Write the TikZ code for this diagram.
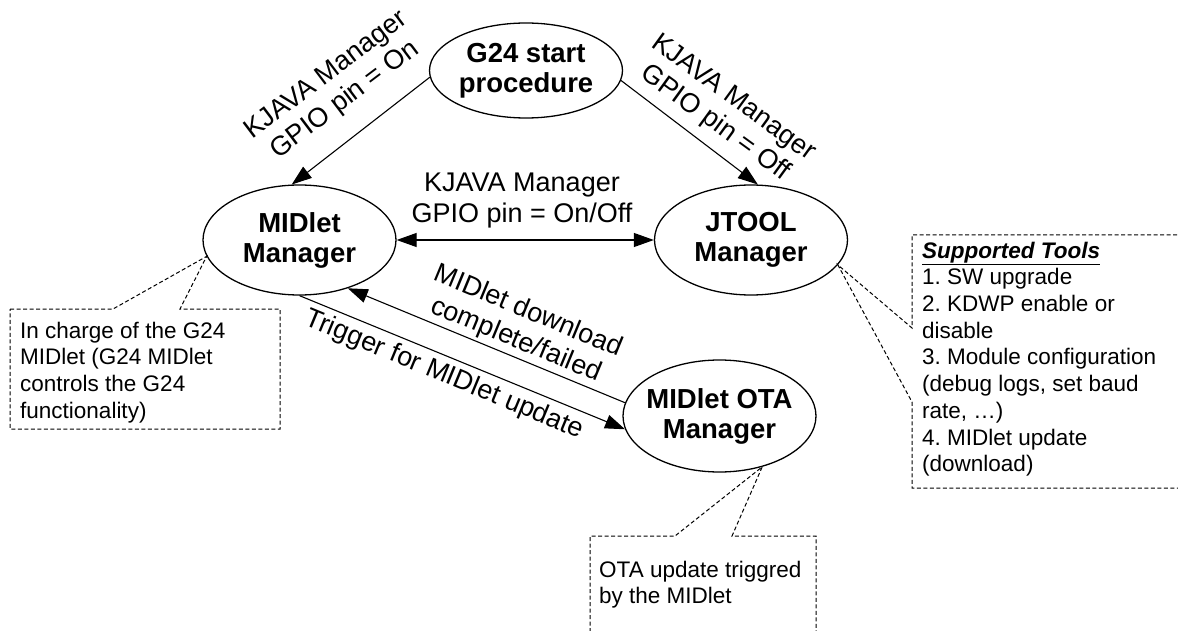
\documentclass[tikz,border=0pt]{standalone}
\usepackage{fontspec}
\setmainfont{Liberation Sans}
\frenchspacing
\usetikzlibrary{arrows.meta,shapes.geometric}
\begin{document}
\begin{tikzpicture}[x=1pt,y=-1pt,
  state/.style={ellipse,draw,line width=1.3pt,inner xsep=-10pt,inner ysep=0pt,minimum width=193pt,minimum height=110pt,align=center,font=\fontsize{27.5}{30}\selectfont\bfseries},
  flow/.style={line width=1.1pt,-{Triangle[length=20pt,width=14pt]}},
  flowboth/.style={line width=1.1pt,{Triangle[length=20pt,width=14pt]}-{Triangle[length=20pt,width=14pt]}},
  elabel/.style={align=center,inner sep=0pt,font=\fontsize{27}{31}\selectfont},
  note/.style={line width=1pt,dash pattern=on 4pt off 2.5pt},
  notetext/.style={anchor=north west,align=left,inner sep=0pt,font=\fontsize{22.5}{26.7}\selectfont}]
\useasboundingbox (0,0) rectangle (1178,631);
\clip (0,0) rectangle (1178,631);
% states
\node[state,minimum height=95pt] (g24) at (526,70.5) {G24 start\\procedure};
\node[state] (midlet) at (299.5,240) {MIDlet\\Manager};
\node[state] (jtool) at (751,240) {JTOOL\\Manager};
\node[state,minimum height=112pt] (ota) at (719.5,416) {MIDlet OTA\\Manager};
% connectors
\draw[flow] (g24.184) -- (midlet.98);
\draw[flow] (g24.354) -- (jtool.83);
\draw[flowboth] (midlet.east) -- (jtool.west);
\draw[flow] (ota.172) -- (midlet.315);
\draw[flow] (midlet.270) -- (ota.188);
% connector labels
\node[elabel,rotate=37] (lblon) at (336,88) {KJAVA Manager\\GPIO pin = On};
\node[elabel,rotate=-36] (lbloff) at (724,111) {KJAVA Manager\\GPIO pin = Off};
\node[elabel] (lblonoff) at (522,201) {KJAVA Manager\\GPIO pin = On/Off};
\node[elabel,rotate=-22.5] (lbldone) at (522,326) {MIDlet download\\complete/failed};
\node[elabel,rotate=-22.5] (lbltrig) at (444,375) {Trigger for MIDlet update};
% callouts
\draw[note] (10,309) -- (113,309) -- (midlet.190) -- (180,309) -- (280,309) -- (280,429) -- (10,429) -- cycle;
\node[notetext] (n1) at (20,321.6) {In charge of the G24\\MIDlet (G24 MIDlet\\controls the G24\\functionality)};
\draw[note] (1190,235) -- (912,235) -- (912,328) -- (jtool.344) -- (912,402) -- (912,488) -- (1190,488);
\node[notetext] (n2) at (922,241.6) {\textbf{\textit{\underline{Supported Tools}}}\\1. SW upgrade\\2. KDWP enable or\\disable\\3. Module configuration\\(debug logs, set baud\\rate, …)\\4. MIDlet update\\(download)};
\draw[note] (590,645) -- (590,536) -- (675,536) -- (ota.310) -- (732,536) -- (816,536) -- (816,645);
\node[notetext] (n3) at (599,560.6) {OTA update triggred\\by the MIDlet};
\end{tikzpicture}
\end{document}
